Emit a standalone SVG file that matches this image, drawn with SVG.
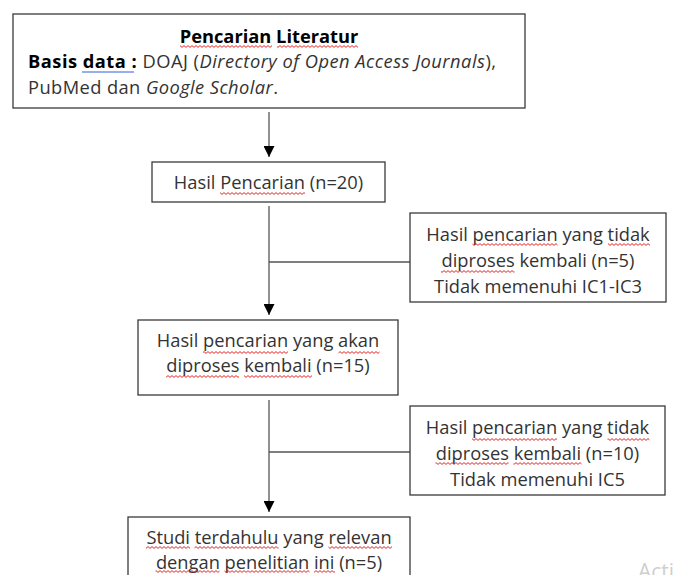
<svg xmlns="http://www.w3.org/2000/svg" width="674" height="575" viewBox="0 0 674 575">
<style>
.box{fill:#fff;stroke:#3a3a3a;stroke-width:1.3}
.t{font-family:"Open Sans","Liberation Sans",sans-serif;font-size:18.3px;fill:#333}
.c{text-anchor:middle}
.b{font-weight:bold;fill:#000}
.i{font-style:italic}
.ln{stroke:#555;stroke-width:1.3;fill:none}
.wv{fill:url(#wavy)}
</style>
<defs>
<marker id="ah" markerUnits="userSpaceOnUse" markerWidth="11" markerHeight="11" refX="11" refY="5.5" orient="auto">
<path d="M0,0 L11,5.5 L0,11 Z" fill="#000"/>
</marker>
<pattern id="wavy" patternUnits="userSpaceOnUse" width="4" height="3">
<path d="M-1,1.5 L0,0.6 L2,2.4 L4,0.6 L5,1.5" fill="none" stroke="#e01010" stroke-width="0.9"/>
</pattern>
</defs>
<rect width="674" height="575" fill="#fff"/>
<g id="connectors">
<path class="ln" d="M269,112 V157" marker-end="url(#ah)"/>
<path class="ln" d="M269,206 V315" marker-end="url(#ah)"/>
<path class="ln" d="M269,262 H410"/>
<path class="ln" d="M269,400 V512" marker-end="url(#ah)"/>
<path class="ln" d="M269,452 H410"/>
</g>
<g id="n1">
<rect class="box" x="13" y="14" width="512" height="94"/>
<text class="t c b" x="269" y="43">Pencarian Literatur</text>
<rect class="wv" x="180" y="45" width="92" height="3"/>
<rect class="wv" x="277" y="45" width="81" height="3"/>
<text class="t" x="28" y="68" textLength="468" lengthAdjust="spacing"><tspan class="b">Basis data :</tspan> DOAJ (<tspan class="i">Directory of Open Access Journals</tspan>),</text>
<line x1="82" y1="72" x2="134" y2="72" stroke="#3060e0" stroke-width="1.2"/>
<text class="t" x="28" y="94" textLength="250" lengthAdjust="spacing">PubMed dan <tspan class="i">Google Scholar</tspan>.</text>
</g>
<g id="n2">
<rect class="box" x="152" y="162" width="233" height="40"/>
<text class="t c" x="268.5" y="189">Hasil Pencarian (n=20)</text>
<rect class="wv" x="220" y="192" width="85" height="3"/>
</g>
<g id="n3">
<rect class="box" x="410" y="213" width="256" height="89"/>
<text class="t c" x="538" y="241">Hasil pencarian yang tidak</text>
<text class="t c" x="538" y="267">diproses kembali (n=5)</text>
<text class="t c" x="538" y="293">Tidak memenuhi IC1-IC3</text>
<rect class="wv" x="472.5" y="243" width="85" height="3"/>
<rect class="wv" x="608" y="243" width="42" height="3"/>
<rect class="wv" x="441" y="270" width="73.5" height="3"/>
</g>
<g id="n4">
<rect class="box" x="138" y="320" width="260" height="75"/>
<text class="t c" x="268" y="347">Hasil pencarian yang akan</text>
<text class="t c" x="268" y="372">diproses kembali (n=15)</text>
<rect class="wv" x="203" y="351" width="85" height="3"/>
<rect class="wv" x="338.5" y="351" width="41" height="3"/>
<rect class="wv" x="166" y="375" width="73" height="3"/>
<rect class="wv" x="244" y="375" width="68" height="3"/>
</g>
<g id="n5">
<rect class="box" x="410" y="406" width="255" height="89"/>
<text class="t c" x="537.5" y="434">Hasil pencarian yang tidak</text>
<text class="t c" x="537.5" y="460">diproses kembali (n=10)</text>
<text class="t c" x="537.5" y="486">Tidak memenuhi IC5</text>
<rect class="wv" x="472" y="438" width="85" height="3"/>
<rect class="wv" x="607.5" y="438" width="42" height="3"/>
<rect class="wv" x="435.5" y="462" width="73" height="3"/>
<rect class="wv" x="513.5" y="462" width="68" height="3"/>
</g>
<g id="n6">
<rect class="box" x="128" y="517" width="282" height="70"/>
<text class="t c" x="269" y="544">Studi terdahulu yang relevan</text>
<text class="t c" x="269" y="569">dengan penelitian ini (n=5)</text>
<rect class="wv" x="146" y="546" width="44" height="3"/>
<rect class="wv" x="194.5" y="546" width="84" height="3"/>
<rect class="wv" x="328.5" y="546" width="63.5" height="3"/>
<rect class="wv" x="155.5" y="570" width="64" height="3"/>
<rect class="wv" x="224.5" y="570" width="85" height="3"/>
<rect class="wv" x="314" y="570" width="21" height="3"/>
</g>
<text x="638" y="579" style="font-family:'Open Sans',sans-serif;font-size:21px;fill:#cfcfcf">Acti</text>
</svg>
